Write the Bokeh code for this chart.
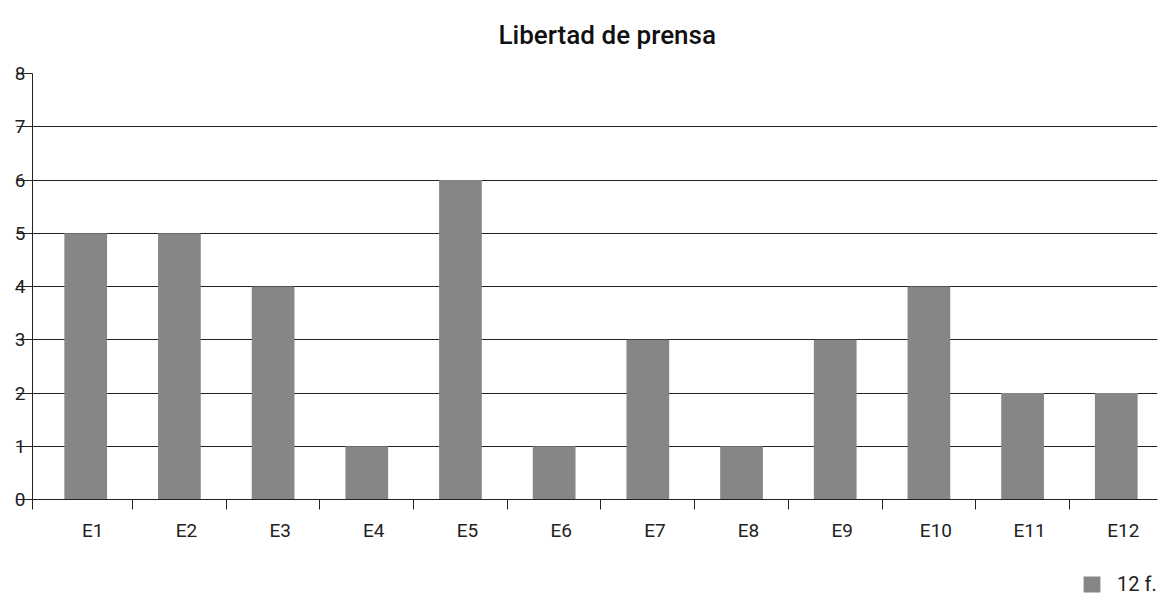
from bokeh.plotting import figure
from bokeh.layouts import column
from bokeh.models import Range1d, FixedTicker, Legend, LegendItem, ColumnDataSource
from bokeh.core.properties import value
from bokeh.embed import file_html
from bokeh.resources import INLINE

# ---- data ----
categories = ["E1", "E2", "E3", "E4", "E5", "E6", "E7", "E8", "E9", "E10", "E11", "E12"]
values = [5, 5, 4, 1, 6, 1, 3, 1, 3, 4, 2, 2]
y_ticks = [0, 1, 2, 3, 4, 5, 6, 7, 8]
series_name = "12 f."
chart_title = "Libertad de prensa"

# ---- layout helpers ----
x_start, x_end = -0.068, 11.94
bar_x = [i + 0.5 for i in range(len(categories))]
label_pos = [round(i + 0.575, 3) for i in range(len(categories))]
boundaries = [x_start] + [float(i) for i in range(1, len(categories))]

FONT = "Roboto"
INK = "#222222"
BAR = "#858688"
W = 1161
BL, BR = 32, 4          # left / right borders shared by all strips
FW = W - BL - BR        # frame width

# ---- title strip ----
p0 = figure(width=W, height=60, x_range=Range1d(0, FW), y_range=Range1d(0, 60),
            output_backend="svg", toolbar_location=None, title=None,
            x_axis_location=None, y_axis_location=None,
            min_border_left=BL, min_border_right=BR, min_border_top=0, min_border_bottom=0)
p0.grid.visible = False
p0.outline_line_color = None
p0.text(x=[466], y=[26], text=[chart_title],
        text_font=value("'Roboto Medium', Roboto"), text_font_size="26px",
        text_color="#111111", text_align="left", text_baseline="alphabetic")

# ---- main chart ----
p = figure(width=W, height=515,
           x_range=Range1d(x_start, x_end), y_range=Range1d(0, 8),
           output_backend="svg", toolbar_location=None, title=None,
           min_border_left=BL, min_border_right=BR,
           min_border_top=13, min_border_bottom=76)

p.outline_line_color = None
p.background_fill_color = "white"
p.border_fill_color = "white"

src = ColumnDataSource(dict(x=bar_x, top=values, cat=categories))
r = p.vbar(x="x", top="top", width=0.456, bottom=0, source=src,
           fill_color=BAR, line_color=None)

# x axis
xa = p.xaxis[0]
xa.ticker = FixedTicker(ticks=label_pos, minor_ticks=boundaries)
xa.major_label_overrides = {lp: c for lp, c in zip(label_pos, categories)}
xa.major_tick_out = 0
xa.major_tick_in = 0
xa.minor_tick_out = 10
xa.minor_tick_in = 0
xa.minor_tick_line_color = INK
xa.axis_line_color = INK
xa.major_label_standoff = 9
xa.major_label_text_font = FONT
xa.major_label_text_font_size = "19px"
xa.major_label_text_color = INK
p.xgrid.visible = False

# y axis
ya = p.yaxis[0]
ya.ticker = FixedTicker(ticks=y_ticks)
ya.major_tick_out = 16
ya.major_tick_in = 0
ya.minor_tick_out = 0
ya.minor_tick_in = 0
ya.major_tick_line_color = INK
ya.axis_line_color = INK
ya.major_label_standoff = -9
ya.major_label_text_font = FONT
ya.major_label_text_font_size = "19px"
ya.major_label_text_color = INK
p.ygrid.ticker = FixedTicker(ticks=y_ticks)
p.ygrid.grid_line_color = INK
p.ygrid.grid_line_width = 1

# ---- legend strip ----
# its x range lies far away from the bars, so the helper glyph is never drawn
p2 = figure(width=W, height=20, x_range=Range1d(100, 101), y_range=Range1d(100, 101),
            output_backend="svg", toolbar_location=None, title=None,
            x_axis_location=None, y_axis_location=None,
            min_border_left=BL, min_border_right=BR, min_border_top=0, min_border_bottom=0)
p2.grid.visible = False
p2.outline_line_color = None
swatch = p2.vbar(x="x", top="top", bottom="top", width=0.456, source=src,
                 fill_color=BAR, line_color=None)

legend = Legend(items=[LegendItem(label=series_name, renderers=[swatch])],
                location=(1049, -1), orientation="vertical",
                glyph_width=21, glyph_height=20, label_standoff=15,
                label_height=20,
                padding=0, margin=0, spacing=0,
                border_line_color=None, background_fill_alpha=0,
                label_text_font=FONT, label_text_font_size="20px",
                label_text_color=INK)
p2.add_layout(legend)

layout = column(p0, p, p2, spacing=0)
open("out.html", "w").write(file_html(layout, INLINE))
